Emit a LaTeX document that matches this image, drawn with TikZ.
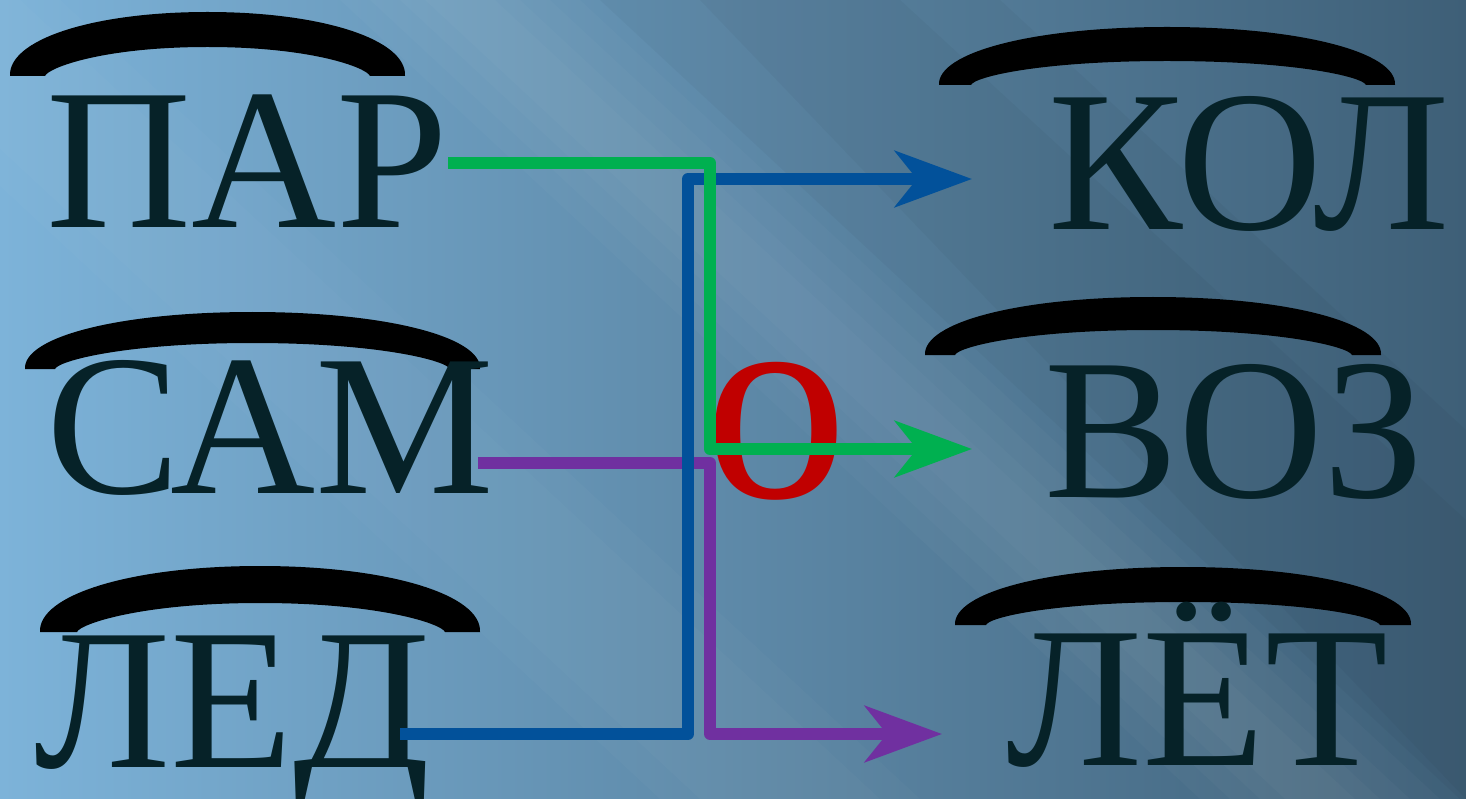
\documentclass[tikz,border=0pt]{standalone}
\usepackage{fontspec}
\setmainfont{Liberation Serif}
\usetikzlibrary{arrows.meta}
\definecolor{txt}{HTML}{062228}
\definecolor{gr}{HTML}{00B050}
\definecolor{bl}{HTML}{02519A}
\definecolor{pu}{HTML}{7030A0}
\definecolor{rd}{HTML}{C00000}
\definecolor{bgL}{HTML}{7DB3D9}
\definecolor{bgM}{HTML}{5B89A9}
\definecolor{bgR}{HTML}{3E5F77}
% #1 outer left x, #2 outer right x, #3 top y, #4 inner centre y, #5 feet y, #6 inner left foot x, #7 inner right foot x
\newcommand\rootarc[7]{%
  \fill[black] (#1,#5)
    .. controls ({#1-2},{#3+0.44*(#5-#3)}) and ({#1+0.41*((#1+#2)/2-#1)},#3) .. ({(#1+#2)/2},#3)
    .. controls ({#2-0.41*((#1+#2)/2-#1)},#3) and ({#2+2},{#3+0.44*(#5-#3)}) .. (#2,#5)
    -- (#7,#5)
    .. controls ({#7-3},{#5-8}) and ({#7-0.35*(#7-(#1+#2)/2)},#4) .. ({(#1+#2)/2},#4)
    .. controls ({#6+0.35*((#1+#2)/2-#6)},#4) and ({#6+3},{#5-8}) .. (#6,#5)
    -- cycle;}
\newcommand\streak[3]{% left x at top, width, opacity
  \fill[white, opacity=#3] (#1,0) -- ({#1+#2},0) -- ({#1+#2+860},799) -- ({#1+860},799) -- cycle;}
\begin{document}
\begin{tikzpicture}[x=1pt,y=-1pt,
  word/.style={text=txt, font=\fontsize{201}{240}\selectfont, inner sep=0pt, anchor=base},
  conn/.style={line width=12pt, line join=round, line cap=butt, -{Stealth[length=77pt,width=56pt,inset=22pt]}}]
\useasboundingbox (0,0) rectangle (1466,799);
% background
\shade[left color=bgL, middle color=bgM, right color=bgR] (0,0) rectangle (1466,799);
\streak{340}{240}{0.025}
\streak{370}{180}{0.025}
\streak{400}{120}{0.025}
\streak{425}{70}{0.025}
\streak{-200}{260}{0.02}
\streak{-160}{180}{0.02}
\fill[black, opacity=0.03] (600,0) -- (900,0) -- (1466,520) -- (1466,799) -- (1460,799) -- cycle;
\fill[black, opacity=0.03] (700,0) -- (1000,0) -- (1466,430) -- (1466,799) -- cycle;
% root arcs
\rootarc{10}{405}{12}{47}{76}{45}{370}
\rootarc{25}{480}{312}{343}{369}{55}{450}
\rootarc{40}{480}{566}{603}{632}{77}{445}
\rootarc{939}{1395}{27}{61}{85}{971}{1366}
\rootarc{925}{1381}{297}{330}{355}{955}{1352}
\rootarc{955}{1411}{567}{602}{625}{986}{1380}
% words
\node[word] (par) at (247.5,228) {ПАР};
\node[word] (sam) at (270,493) {САМ};
\node[word] (led) at (232.5,767) {ЛЕД};
\node[word] (kol) at (1249,230) {КОЛ};
\node[word] (voz) at (1234,497) {ВОЗ};
\node[word] (lyot) at (1197.5,765) {ЛЁТ};
\node[text=rd, font=\fontsize{287}{300}\selectfont, inner sep=0pt, anchor=base] (o) at (776.5,497) {о};
% connectors
\coordinate (pS) at (478,463); \coordinate (pV) at (710,600); \coordinate (pE) at (942,734);
\coordinate (bS) at (400,734); \coordinate (bV) at (688,450); \coordinate (bE) at (972,179);
\coordinate (gS) at (448,163); \coordinate (gV) at (710,300); \coordinate (gE) at (972,449);
\draw[conn, pu] (pS) -| (pV) |- (pE);
\draw[conn, bl] (bS) -| (bV) |- (bE);
\draw[conn, gr] (gS) -| (gV) |- (gE);
\end{tikzpicture}
\end{document}
